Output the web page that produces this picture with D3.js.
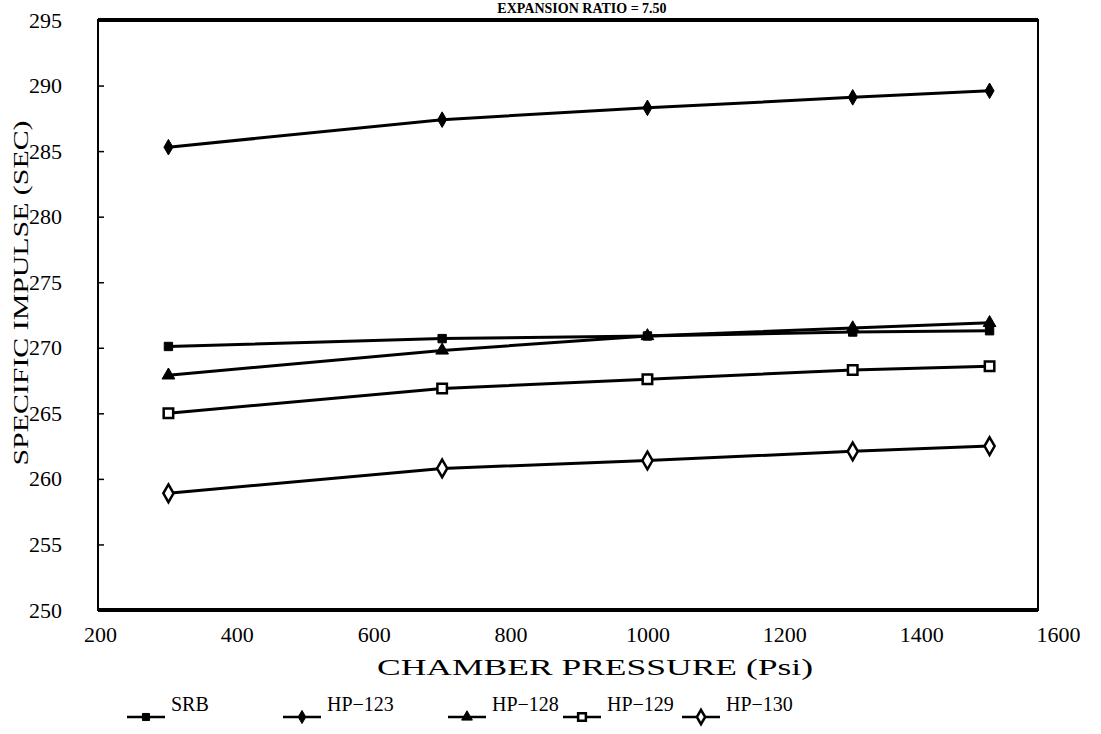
<!DOCTYPE html>
<html lang="en">
<head>
	<meta charset="UTF-8">
	<title>Specific impulse vs chamber pressure</title>
	<style>
		body { margin: 0; background: #fff; }
		svg text { font-family: "Liberation Serif", "Times New Roman", "DejaVu Serif", serif; fill: #000; }
	</style>
</head>
<body>
	<script src="https://d3js.org/d3.v4.min.js"></script>
	<script type="text/javascript">
		var width = 1101;
		var height = 734;
		var serif = "'Liberation Serif', 'Times New Roman', serif";

		// data
		var pressures = [300, 700, 1000, 1300, 1500];
		var srb   = [270.1, 270.7, 270.9, 271.2, 271.3];
		var hp123 = [285.3, 287.4, 288.3, 289.1, 289.6];
		var hp128 = [267.9, 269.8, 270.9, 271.5, 271.9];
		var hp129 = [265.0, 266.9, 267.6, 268.3, 268.6];
		var hp130 = [258.9, 260.8, 261.4, 262.1, 262.5];
		var xTicks = [200, 400, 600, 800, 1000, 1200, 1400, 1600];
		var yTicks = [250, 255, 260, 265, 270, 275, 280, 285, 290, 295];

		var series = [
			{name: "SRB", values: srb, symbol: "square", fill: true},
			{name: "HP\u2212123", values: hp123, symbol: "diamond", fill: true},
			{name: "HP\u2212128", values: hp128, symbol: "triangle", fill: true},
			{name: "HP\u2212129", values: hp129, symbol: "square", fill: false},
			{name: "HP\u2212130", values: hp130, symbol: "diamond", fill: false}
		];

		var svg = d3.select("body").append("svg").attr("width",width).attr("height",height);
		var frame = {left:98, right:1038, top:20, bottom:610};

		var XScale = d3.scaleLinear().domain([200,1600]).range([100,1058]);
		var YScale = d3.scaleLinear().domain([250,295]).range([frame.bottom,frame.top]);

		// title, cut off at the top of the scan
		svg.append("text")
			.attr("x",582).attr("y",13)
			.attr("text-anchor","middle")
			.attr("font-size",14)
			.attr("font-weight","bold")
			.attr("font-family",serif)
			.text("EXPANSION RATIO = 7.50");

		// plot frame
		svg.append("rect")
			.attr("x",frame.left).attr("y",frame.top)
			.attr("width",frame.right-frame.left).attr("height",frame.bottom-frame.top)
			.attr("fill","none").attr("stroke","#000").attr("stroke-width",2);
		svg.append("line")
			.attr("x1",frame.left).attr("x2",frame.right)
			.attr("y1",frame.top).attr("y2",frame.top)
			.attr("stroke","#000").attr("stroke-width",4);
		svg.append("line")
			.attr("x1",frame.left).attr("x2",frame.right)
			.attr("y1",frame.bottom).attr("y2",frame.bottom)
			.attr("stroke","#000").attr("stroke-width",4);

		//y轴
		var YAxis = d3.axisLeft(YScale).tickValues(yTicks).tickSize(-6).tickPadding(36);
		var gy = svg.append("g")
			.attr("transform","translate(" + frame.left + ",0)")
			.attr("font-family",serif)
			.call(YAxis);
		gy.select(".domain").remove();
		gy.selectAll("line").attr("stroke-width",1.5);
		gy.selectAll("text").attr("font-size",22).attr("font-family",serif);

		//x轴 (labels only)
		var XAxis = d3.axisBottom(XScale).tickValues(xTicks).tickSize(0).tickPadding(16)
			.tickFormat(d3.format("d"));
		var gx = svg.append("g")
			.attr("transform","translate(0," + frame.bottom + ")")
			.attr("font-family",serif)
			.call(XAxis);
		gx.select(".domain").remove();
		gx.selectAll("text").attr("font-size",22).attr("font-family",serif);

		// axis titles
		svg.append("text")
			.attr("x",595).attr("y",675)
			.attr("text-anchor","middle")
			.attr("font-size",24)
			.attr("font-family",serif)
			.attr("textLength",436)
			.attr("lengthAdjust","spacingAndGlyphs")
			.text("CHAMBER PRESSURE (Psi)");
		svg.append("text")
			.attr("transform","translate(28,293) rotate(-90)")
			.attr("text-anchor","middle")
			.attr("font-size",21)
			.attr("font-family",serif)
			.attr("textLength",345)
			.attr("lengthAdjust","spacingAndGlyphs")
			.text("SPECIFIC IMPULSE (SEC)");

		function drawSymbol(g, s, cx, cy, size) {
			var sym = s.symbol === "square" ? d3.symbolSquare
				: s.symbol === "diamond" ? d3.symbolDiamond : d3.symbolTriangle;
			g.append("path")
				.attr("d", d3.symbol().type(sym).size(size)())
				.attr("transform","translate(" + cx + "," + cy + ")")
				.attr("fill", s.fill ? "#000" : "#fff")
				.attr("stroke","#000")
				.attr("stroke-width", s.fill ? 1 : 2.5);
		}

		var line = d3.line()
			.x(function(d){ return XScale(d[0]); })
			.y(function(d){ return YScale(d[1]); });

		series.forEach(function(s){
			var pts = pressures.map(function(p,i){ return [p, s.values[i]]; });
			svg.append("path")
				.attr("d", line(pts))
				.attr("fill","none")
				.attr("stroke","#000")
				.attr("stroke-width",3);
			var g = svg.append("g");
			pts.forEach(function(d){
				drawSymbol(g, s, XScale(d[0]), YScale(d[1]), s.fill ? 70 : 90);
			});
		});

		// legend
		var legendX = [127, 283, 448, 563, 682];
		var legend = svg.append("g");
		series.forEach(function(s,i){
			var x0 = legendX[i];
			legend.append("line")
				.attr("x1",x0).attr("x2",x0+38)
				.attr("y1",717).attr("y2",717)
				.attr("stroke","#000").attr("stroke-width",2.5);
			drawSymbol(legend, s, x0+19, 717, s.fill ? 50 : 60);
			legend.append("text")
				.attr("x",x0+44).attr("y",711)
				.attr("font-size",20)
				.attr("font-family",serif)
				.text(s.name);
		});
	</script>
</body>
</html>
